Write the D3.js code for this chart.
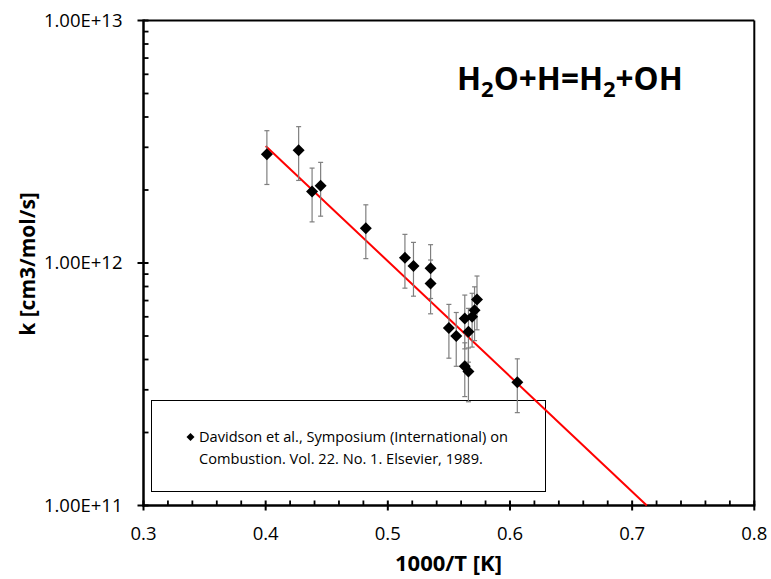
<!DOCTYPE html>
<html>
<head>
<meta charset="utf-8">
<script src="https://cdn.jsdelivr.net/npm/d3@7"></script>
<style>
  body { margin: 0; background: #fff; }
  text { font-family: "Open Sans", sans-serif; }
</style>
</head>
<body>
<div id="chart"></div>
<script>
// Davidson et al. 1989 measurements, H2O+H=H2+OH
const invT = [0.401, 0.427, 0.438, 0.445, 0.482, 0.514, 0.521, 0.535, 0.535,
  0.550, 0.556, 0.563, 0.566, 0.563, 0.566, 0.569, 0.571, 0.573, 0.606];
const rate = [2.81e12, 2.92e12, 1.97e12, 2.08e12, 1.39e12, 1.05e12, 0.973e12, 0.952e12, 0.823e12,
  5.40e11, 5.00e11, 5.90e11, 5.20e11, 3.75e11, 3.57e11, 6.00e11, 6.38e11, 7.07e11, 3.22e11];
const errFrac = 0.25;

// fitted Arrhenius line (end points)
const fitX = [0.4, 0.712];
const fitK = [3.04e12, 1e11];

const xTicks = [0.3, 0.4, 0.5, 0.6, 0.7, 0.8];
const yTicks = [1e11, 1e12, 1e13];
const legendLines = ["Davidson et al., Symposium (International) on",
  "Combustion. Vol. 22. No. 1. Elsevier, 1989."];

const width = 771, height = 579;

const svg = d3.select('#chart')
  .append('svg')
  .attr('width', width)
  .attr('height', height);

const x = d3.scaleLinear().domain([0.3, 0.8]).range([143.5, 754.3]);
const y = d3.scaleLog().domain([1e11, 1e13]).range([505.5, 20.5]);

// legend box (under the data)
svg.append('rect')
  .attr('x', 151.5).attr('y', 400.5)
  .attr('width', 394).attr('height', 91)
  .attr('fill', 'none')
  .attr('stroke', '#000')
  .attr('stroke-width', 1);

const diamond = r => `M0,${-r}L${r},0L0,${r}L${-r},0Z`;

legendLines.forEach((t, i) => {
  svg.append('text')
    .attr('x', 199).attr('y', 437 + i * 21.5)
    .attr('dy', '0.35em')
    .attr('font-size', 14.6)
    .attr('fill', '#000')
    .text(t);
});
svg.append('path')
  .attr('d', diamond(4))
  .attr('transform', 'translate(190.5,437)')
  .attr('fill', '#000');

// frame: top and right
svg.append('line')
  .attr('x1', x(0.3)).attr('x2', x(0.8))
  .attr('y1', y(1e13)).attr('y2', y(1e13))
  .attr('stroke', '#000').attr('stroke-width', 2);
svg.append('line')
  .attr('x1', x(0.8)).attr('x2', x(0.8))
  .attr('y1', y(1e13)).attr('y2', y(1e11))
  .attr('stroke', '#000').attr('stroke-width', 2);

// x axis
const xMinor = d3.range(0.32, 0.8, 0.02).filter(v => Math.abs(v * 10 - Math.round(v * 10)) > 1e-6);
const gx = svg.append('g').attr('transform', `translate(0,${y(1e11)})`);
gx.append('line')
  .attr('x1', x(0.3) - 1).attr('x2', x(0.8) + 1)
  .attr('stroke', '#000').attr('stroke-width', 2.5);
gx.selectAll('.minor').data(xMinor).enter().append('line')
  .attr('x1', d => x(d)).attr('x2', d => x(d))
  .attr('y1', -5).attr('y2', 0)
  .attr('stroke', '#000').attr('stroke-width', 1.8);
gx.selectAll('.major').data(xTicks).enter().append('line')
  .attr('x1', d => x(d)).attr('x2', d => x(d))
  .attr('y1', -5).attr('y2', 5)
  .attr('stroke', '#000').attr('stroke-width', 2);
gx.selectAll('.lbl').data(xTicks).enter().append('text')
  .attr('x', d => x(d)).attr('y', 34.5)
  .attr('text-anchor', 'middle')
  .attr('font-size', 18.5)
  .text(d => d.toFixed(1));

// y axis
const yMinor = [];
[1e11, 1e12].forEach(b => { for (let m = 2; m <= 9; m++) yMinor.push(b * m); });
const gy = svg.append('g').attr('transform', `translate(${x(0.3)},0)`);
gy.append('line')
  .attr('y1', y(1e13) - 1).attr('y2', y(1e11) + 1)
  .attr('stroke', '#000').attr('stroke-width', 2.5);
gy.selectAll('.minor').data(yMinor).enter().append('line')
  .attr('y1', d => y(d)).attr('y2', d => y(d))
  .attr('x1', 0).attr('x2', 5)
  .attr('stroke', '#000').attr('stroke-width', 1.8);
gy.selectAll('.major').data(yTicks).enter().append('line')
  .attr('y1', d => y(d)).attr('y2', d => y(d))
  .attr('x1', -6).attr('x2', 5)
  .attr('stroke', '#000').attr('stroke-width', 2);
gy.selectAll('.lbl').data(yTicks).enter().append('text')
  .attr('x', -21).attr('y', d => y(d))
  .attr('dy', '0.35em')
  .attr('text-anchor', 'end')
  .attr('font-size', 18.5)
  .text(d => d.toExponential(2).toUpperCase());

// axis titles
svg.append('text')
  .attr('x', 448.5).attr('y', 571)
  .attr('text-anchor', 'middle')
  .attr('font-size', 22).attr('font-weight', 'bold')
  .text('1000/T [K]');
svg.append('text')
  .attr('transform', 'translate(35,264) rotate(-90)')
  .attr('text-anchor', 'middle')
  .attr('font-size', 21).attr('font-weight', 'bold')
  .text('k [cm3/mol/s]');

// reaction label
const title = svg.append('text')
  .attr('x', 457).attr('y', 90)
  .attr('font-size', 31.5).attr('font-weight', 'bold');
const parts = [['H', 0], ['2', 1], ['O+H=H', 0], ['2', 1], ['+OH', 0]];
parts.forEach(([t, sub], i) => {
  const prevSub = i > 0 && parts[i - 1][1];
  title.append('tspan')
    .attr('font-size', sub ? 22 : 31.5)
    .attr('dy', sub ? 7 : (prevSub ? -7 : 0))
    .text(t);
});

// fit line
svg.append('line')
  .attr('x1', x(fitX[0])).attr('y1', y(fitK[0]))
  .attr('x2', x(fitX[1])).attr('y2', y(fitK[1]))
  .attr('stroke', '#ff0000').attr('stroke-width', 2);

// error bars
const pts = invT.map((v, i) => ({ x: v, k: rate[i] }));
const eb = svg.append('g').attr('stroke', '#7f7f7f').attr('stroke-width', 1.2);
pts.forEach(d => {
  const top = y(d.k * (1 + errFrac)), bot = y(d.k * (1 - errFrac)), cx = x(d.x);
  eb.append('line').attr('x1', cx).attr('x2', cx).attr('y1', top).attr('y2', bot);
  eb.append('line').attr('x1', cx - 2.5).attr('x2', cx + 2.5).attr('y1', top).attr('y2', top);
  eb.append('line').attr('x1', cx - 2.5).attr('x2', cx + 2.5).attr('y1', bot).attr('y2', bot);
});

// markers
svg.selectAll('.pt').data(pts).enter().append('path')
  .attr('d', diamond(6))
  .attr('transform', d => `translate(${x(d.x)},${y(d.k)})`)
  .attr('fill', '#000');
</script>
</body>
</html>
